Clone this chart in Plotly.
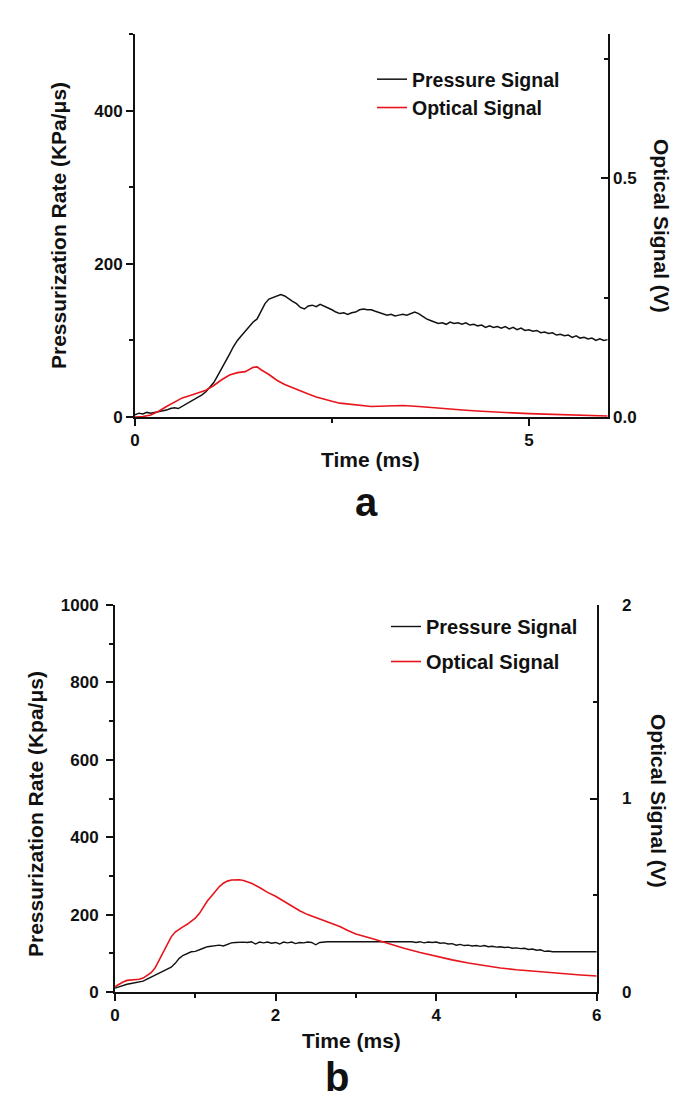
import plotly.graph_objects as go

# ---------------- Panel a ----------------
a_p_t = [0.00,0.05,0.10,0.15,0.20,0.25,0.30,0.35,0.40,0.45,0.50,0.55,0.60,0.65,0.70,0.75,0.80,0.85,0.90,0.95,
         1.00,1.05,1.10,1.15,1.20,1.25,1.30,1.35,1.40,1.45,1.50,1.55,1.60,1.65,1.70,1.75,1.80,1.85,1.90,1.95,
         2.00,2.05,2.10,2.15,2.20,2.25,2.30,2.35,2.40,2.45,2.50,2.55,2.60,2.65,2.70,2.75,2.80,2.85,2.90,2.95,
         3.00,3.05,3.10,3.15,3.20,3.25,3.30,3.35,3.40,3.45,3.50,3.55,3.60,3.65,3.70,3.75,3.80,3.85,3.90,3.95,
         4.00,4.05,4.10,4.15,4.20,4.25,4.30,4.35,4.40,4.45,4.50,4.55,4.60,4.65,4.70,4.75,4.80,4.85,4.90,4.95,
         5.00,5.05,5.10,5.15,5.20,5.25,5.30,5.35,5.40,5.45,5.50,5.55,5.60,5.65,5.70,5.75,5.80,5.85,5.90,5.95,6.00]
a_p_v = [3,5,4,6,5,6,7,8,9,11,12,11,14,17,20,22,26,29,33,39,
         45,54,63,72,82,92,100,106,112,118,124,128,138,148,154,156,159,160,158,154,
         151,148,143,141,145,146,144,147,145,142,140,137,135,136,134,136,137,140,141,140,
         140,138,136,135,133,134,132,133,134,133,135,137,135,131,128,126,124,122,123,121,
         124,122,123,121,123,120,121,119,120,117,119,117,118,116,118,115,117,114,116,113,
         114,112,113,110,111,109,110,107,108,106,107,104,106,103,104,102,103,100,102,100,101]

a_o_t = [0.00,0.10,0.20,0.30,0.40,0.50,0.60,0.70,0.80,0.90,1.00,1.10,1.20,1.30,1.40,1.45,1.50,1.55,1.60,1.70,1.80,1.90,2.00,2.10,2.20,2.30,2.40,2.50,2.60,2.70,2.80,2.90,3.00,3.20,3.40,3.60,3.80,4.00,4.20,4.40,4.60,4.80,5.00,5.20,5.40,5.60,5.80,6.00]
a_o_v = [0.000,0.001,0.004,0.012,0.022,0.031,0.040,0.045,0.050,0.056,0.066,0.078,0.088,0.093,0.095,0.099,0.104,0.105,0.099,0.089,0.077,0.068,0.061,0.054,0.048,0.042,0.037,0.033,0.029,0.027,0.025,0.023,0.022,0.023,0.024,0.022,0.019,0.016,0.014,0.012,0.010,0.008,0.007,0.006,0.005,0.004,0.003,0.002]

# ---------------- Panel b ----------------
b_p_t = [0.00,0.05,0.10,0.15,0.20,0.25,0.30,0.35,0.40,0.45,0.50,0.55,0.60,0.65,0.70,0.75,0.80,0.85,0.90,0.95,1.00,1.05,1.10,1.15,1.20,1.25,1.30,1.35,1.40,1.45,1.50,1.55,1.60,1.65,1.70,1.75,1.80,1.85,1.90,1.95,2.00,2.05,2.10,2.15,2.20,2.25,2.30,2.35,2.40,2.45,2.50,2.55,2.60,2.65,3.70,3.75,3.80,3.85,3.90,3.95,4.00,4.05,4.10,4.15,4.20,4.25,4.30,4.35,4.40,4.45,4.50,4.55,4.60,4.65,4.70,4.75,4.80,4.85,4.90,4.95,5.00,5.05,5.10,5.15,5.20,5.25,5.30,5.35,5.40,5.45,6.00]
b_p_v = [10,14,18,20,22,24,26,28,33,38,44,48,53,58,64,74,87,95,100,104,105,108,113,117,118,120,121,119,124,127,128,129,129,128,130,124,129,127,129,126,128,124,129,127,129,125,128,127,129,128,122,128,129,130,130,128,130,127,129,128,129,126,127,124,125,121,123,120,121,119,120,118,120,117,118,116,117,115,116,113,114,112,113,110,111,108,109,105,106,104,104]

b_o_t = [0.00,0.05,0.10,0.15,0.20,0.25,0.30,0.35,0.40,0.45,0.50,0.55,0.60,0.65,0.70,0.75,0.80,0.85,0.90,0.95,1.00,1.05,1.10,1.15,1.20,1.25,1.30,1.35,1.40,1.45,1.50,1.55,1.60,1.70,1.80,1.90,2.00,2.10,2.20,2.30,2.40,2.50,2.60,2.70,2.80,2.90,3.00,3.20,3.40,3.60,3.80,4.00,4.20,4.40,4.60,4.80,5.00,5.20,5.40,5.60,5.80,6.00]
b_o_v = [0.027,0.040,0.052,0.060,0.062,0.064,0.066,0.072,0.085,0.100,0.125,0.165,0.205,0.245,0.285,0.310,0.325,0.338,0.350,0.365,0.382,0.405,0.440,0.470,0.495,0.520,0.545,0.562,0.573,0.579,0.581,0.580,0.576,0.562,0.540,0.515,0.495,0.470,0.445,0.420,0.400,0.385,0.370,0.355,0.338,0.318,0.300,0.276,0.250,0.226,0.204,0.184,0.166,0.150,0.136,0.124,0.115,0.108,0.100,0.094,0.088,0.083]

BLACK = "#111111"
RED = "#e8141c"
FONT = "Liberation Sans"

fig = go.Figure()
fig.add_trace(go.Scatter(x=a_p_t, y=a_p_v, mode="lines", name="Pressure Signal",
                         line=dict(color=BLACK, width=1.5), xaxis="x", yaxis="y",
                         legend="legend", legendgroup="a1"))
fig.add_trace(go.Scatter(x=a_o_t, y=a_o_v, mode="lines", name="Optical Signal",
                         line=dict(color=RED, width=1.6), xaxis="x", yaxis="y2",
                         legend="legend", legendgroup="a2"))
fig.add_trace(go.Scatter(x=b_p_t, y=b_p_v, mode="lines", name="Pressure Signal",
                         line=dict(color=BLACK, width=1.4), xaxis="x2", yaxis="y3",
                         legend="legend2", legendgroup="b1"))
fig.add_trace(go.Scatter(x=b_o_t, y=b_o_v, mode="lines", name="Optical Signal",
                         line=dict(color=RED, width=1.6), xaxis="x2", yaxis="y4",
                         legend="legend2", legendgroup="b2"))

W, H = 688, 1097
OFF = 8  # page body margin offset in the screenshot
def px(x): return (x - OFF) / W
def py(y): return (H - (y - OFF)) / H

tick_font = dict(family=FONT, size=17, color="#111", weight="bold")
common = dict(showline=True, linecolor="#111", linewidth=2, showgrid=False,
              zeroline=False, ticklen=7, tickwidth=2, tickcolor="#111",
              tickfont=tick_font, automargin=False)

fig.update_layout(
    template="none",
    width=W, height=H, margin=dict(l=0, r=0, t=0, b=0, autoexpand=False),
    paper_bgcolor="white", plot_bgcolor="white",
    showlegend=True,
    xaxis=dict(domain=[px(135), px(607.7)], anchor="y", range=[0, 6],
               tick0=0, dtick=5, ticks="outside",
               minor=dict(dtick=2.5, ticks="outside", ticklen=4, tickwidth=2, tickcolor="#111"),
               **common),
    yaxis=dict(domain=[py(417), py(34)], anchor="x", range=[0, 500],
               tick0=0, dtick=200, ticks="outside",
               minor=dict(dtick=100, ticks="outside", ticklen=4, tickwidth=2, tickcolor="#111"),
               **common),
    yaxis2=dict(overlaying="y", side="right", anchor="x", range=[0, 0.8025],
                tick0=0, dtick=0.5, ticks="inside", tickformat=".1f",
                minor=dict(dtick=0.25, ticks="inside", ticklen=4, tickwidth=2, tickcolor="#111"),
                **common),
    xaxis2=dict(domain=[px(115), px(596.7)], anchor="y3", range=[0, 6],
                tick0=0, dtick=2, ticks="outside",
                minor=dict(dtick=1, ticks="outside", ticklen=4, tickwidth=2, tickcolor="#111"),
                **common),
    yaxis3=dict(domain=[py(992), py(605)], anchor="x2", range=[0, 1000],
                tick0=0, dtick=200, ticks="outside", ticklabelstandoff=4,
                minor=dict(dtick=100, ticks="outside", ticklen=4, tickwidth=2, tickcolor="#111"),
                **common),
    yaxis4=dict(overlaying="y3", side="right", anchor="x2", range=[0, 2],
                tick0=0, dtick=1, ticks="inside", ticklabelstandoff=20,
                minor=dict(dtick=0.5, ticks="inside", ticklen=4, tickwidth=2, tickcolor="#111"),
                **common),
    legend=dict(x=px(372), y=py(60), xanchor="left", yanchor="top",
                bgcolor="rgba(0,0,0,0)", tracegroupgap=0,
                font=dict(family=FONT, size=19.5, color="#111", weight="bold")),
    legend2=dict(x=px(386), y=py(607), xanchor="left", yanchor="top",
                 bgcolor="rgba(0,0,0,0)", tracegroupgap=6,
                 font=dict(family=FONT, size=20, color="#111", weight="bold")),
)

title_font = dict(family=FONT, size=21, color="#111", weight="bold")
ann = [
    dict(text="Pressurization Rate (KPa/μs)", x=px(58), y=py(226), textangle=-90),
    dict(text="Optical Signal (V)", x=px(662), y=py(226), textangle=90),
    dict(text="Time (ms)", x=px(370), y=py(460), textangle=0),
    dict(text="Pressurization Rate (Kpa/μs)", x=px(35), y=py(814), textangle=-90),
    dict(text="Optical Signal (V)", x=px(659), y=py(801), textangle=90),
    dict(text="Time (ms)", x=px(351), y=py(1040), textangle=0),
]
for a in ann:
    fig.add_annotation(xref="paper", yref="paper", xanchor="center", yanchor="middle",
                       showarrow=False, font=title_font, **a)
fig.add_annotation(text="a", x=px(366), y=py(502), xref="paper", yref="paper",
                   showarrow=False, xanchor="center", yanchor="middle",
                   font=dict(family=FONT, size=40, color="#111", weight="bold"))
fig.add_annotation(text="b", x=px(337), y=py(1077), xref="paper", yref="paper",
                   showarrow=False, xanchor="center", yanchor="middle",
                   font=dict(family=FONT, size=40, color="#111", weight="bold"))

fig.write_html("out.html")
